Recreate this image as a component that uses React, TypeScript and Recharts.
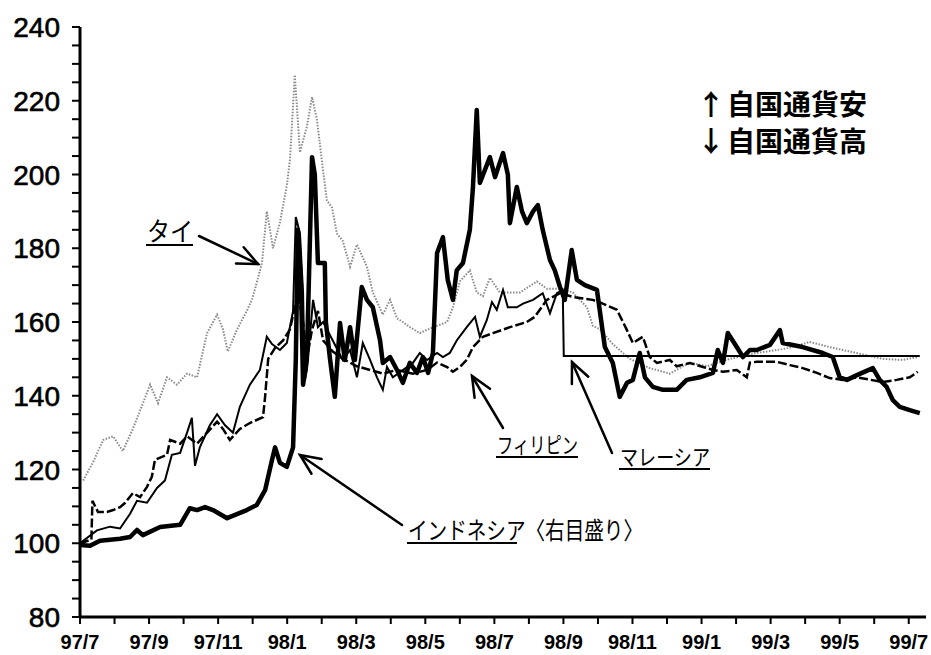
import { LineChart, Line, XAxis, YAxis } from 'recharts';

// months since 97/7 (0 = start of July 1997), index value (97/7 = 100)
const thai: [number, number][] = [
  [0.09, 117], [0.38, 122], [0.67, 128], [0.96, 129], [1.24, 125], [1.53, 131], [1.74, 136],
  [2.03, 143], [2.26, 138], [2.52, 145], [2.81, 143], [3.1, 146], [3.39, 145], [3.68, 157],
  [3.97, 162], [4.14, 158], [4.28, 152], [4.55, 158], [4.83, 163], [4.98, 166], [5.07, 169],
  [5.27, 176], [5.41, 190], [5.59, 180], [5.79, 187], [5.99, 197], [6.08, 204], [6.22, 227],
  [6.37, 206], [6.57, 213], [6.72, 221], [6.86, 215], [7.04, 201], [7.15, 193], [7.3, 191],
  [7.44, 184], [7.61, 182], [7.82, 175], [8.02, 181], [8.31, 175], [8.48, 168], [8.77, 162],
  [8.98, 166], [9.18, 161], [9.35, 160], [9.55, 158.6], [9.84, 157], [10.08, 158], [10.63, 160],
  [10.8, 164], [11.0, 171], [11.29, 174], [11.49, 168], [11.67, 167], [11.87, 172], [12.16, 168],
  [12.74, 168], [13.23, 171], [13.52, 169], [13.9, 169], [14.27, 168], [14.68, 164], [14.85, 159],
  [15.06, 158], [15.43, 154], [15.92, 150], [16.5, 147.5], [17.08, 146], [17.66, 149], [18.15, 148],
  [18.82, 150], [19.6, 151.6], [20.18, 152.4], [20.56, 153], [21.13, 154.6], [21.71, 153.2],
  [22.29, 152], [23.25, 150], [23.83, 149.7], [24.26, 150.5],
];

const malaysia: [number, number][] = [
  [0, 100], [0.49, 103.5], [0.87, 104.5], [1.16, 104], [1.45, 108], [1.65, 111.5], [1.94, 111],
  [2.23, 115], [2.46, 117], [2.66, 124], [2.9, 124.5], [3.1, 130], [3.24, 134], [3.33, 121],
  [3.47, 126], [3.76, 132], [3.97, 135], [4.2, 132], [4.43, 130], [4.63, 137], [4.92, 143],
  [5.21, 147], [5.41, 156], [5.56, 154], [5.79, 152.4], [5.99, 154.3], [6.17, 163], [6.25, 188.5],
  [6.37, 184], [6.46, 168], [6.51, 144], [6.57, 147], [6.75, 166], [6.89, 158.6], [7.04, 160],
  [7.32, 155], [7.61, 149.7], [7.82, 152.4], [8.02, 145], [8.19, 154.3], [8.4, 149.7], [8.6, 145],
  [8.77, 141.6], [8.89, 147.8], [9.06, 145], [9.35, 147], [9.64, 148.9], [9.84, 151.6],
  [10.05, 149.7], [10.34, 151.6], [10.51, 150.5], [10.71, 151.6], [10.91, 155], [11.2, 158.6],
  [11.44, 161.4], [11.58, 156], [11.78, 160.5], [11.93, 165.4], [12.07, 163.3], [12.25, 168.7],
  [12.39, 164], [12.65, 164], [12.83, 165], [13.12, 166], [13.4, 167.8], [13.61, 162.4],
  [13.81, 167.8], [13.98, 168.7], [14.01, 150.8], [24.32, 150.8],
];

const philippines: [number, number][] = [
  [0, 100], [0.33, 101], [0.36, 111.5], [0.52, 108.5], [0.78, 108.5], [0.96, 109], [1.16, 109.8],
  [1.3, 110.9], [1.53, 113.6], [1.74, 112.5], [1.94, 115.3], [2.08, 118], [2.17, 122.6], [2.52, 124],
  [2.61, 128], [2.9, 127], [3.1, 129], [3.39, 127], [3.68, 130], [3.97, 133], [4.14, 131],
  [4.34, 128], [4.63, 131], [4.92, 132.6], [5.3, 134.2], [5.36, 139.7], [5.45, 150], [5.65, 153],
  [5.88, 155], [6.08, 158], [6.31, 168], [6.46, 160], [6.57, 150], [6.72, 158], [6.89, 163],
  [7.04, 155], [7.32, 152], [7.61, 150], [8.02, 148], [8.4, 147], [8.77, 146], [9.18, 147],
  [9.64, 146], [10.05, 147], [10.34, 149], [10.63, 147.8], [10.8, 146.5], [11.0, 147.8],
  [11.2, 149.7], [11.38, 153.2], [11.67, 156], [11.96, 157], [12.45, 158.6], [12.94, 160],
  [13.17, 161.4], [13.52, 166], [13.9, 167.8], [14.27, 166.8], [14.85, 166], [15.14, 165],
  [15.55, 163.3], [15.84, 157.8], [16.01, 154.3], [16.3, 156], [16.5, 150.5], [16.71, 148.9],
  [17.08, 149.7], [17.28, 148], [17.66, 148.9], [18.04, 147.8], [18.33, 147], [18.62, 146.5],
  [19.02, 147], [19.31, 145], [19.4, 149], [19.6, 149.2], [20.18, 149.2], [20.56, 148.3],
  [20.93, 147.5], [21.34, 146.2], [21.71, 144.8], [22.09, 144.3], [22.5, 145], [23.25, 143.7],
  [23.65, 144.3], [24.03, 145], [24.26, 146.5],
];

const indonesia: [number, number][] = [
  [0, 99.5], [0.29, 99.3], [0.58, 100.7], [1.16, 101.2], [1.45, 101.7], [1.65, 103.6], [1.82, 102.2],
  [2.32, 104.4], [2.9, 105], [3.18, 109.5], [3.39, 109], [3.62, 109.8], [3.85, 109], [4.26, 106.8],
  [4.83, 109], [5.12, 110.4], [5.36, 114.4], [5.56, 122.6], [5.65, 126], [5.79, 121.8],
  [5.99, 120.7], [6.17, 126], [6.25, 150], [6.31, 185], [6.4, 170], [6.46, 143], [6.57, 150],
  [6.72, 204.7], [6.8, 200], [6.89, 176], [7.09, 176], [7.12, 160], [7.24, 150], [7.38, 139.7],
  [7.53, 159.7], [7.67, 149.7], [7.82, 158.6], [7.96, 149.7], [8.16, 169.5], [8.31, 166],
  [8.48, 164], [8.69, 155], [8.77, 148.9], [8.98, 150.5], [9.18, 147], [9.35, 143.5], [9.55, 148.9],
  [9.76, 146.2], [9.93, 150.5], [10.08, 146.2], [10.22, 151.6], [10.34, 178.7], [10.51, 183],
  [10.65, 171.4], [10.8, 166], [10.91, 174], [11.09, 176], [11.29, 185], [11.38, 196.6],
  [11.49, 217.5], [11.58, 197.7], [11.87, 204.7], [12.02, 199.3], [12.25, 205.8], [12.39, 200],
  [12.45, 186.8], [12.65, 196.6], [12.8, 190], [12.94, 186.8], [13.12, 190], [13.26, 191.7],
  [13.4, 185], [13.61, 176.8], [13.75, 174], [13.9, 169.5], [14.04, 166], [14.24, 179.5],
  [14.39, 171.4], [14.62, 170], [14.97, 168.7], [15.2, 153.2], [15.43, 148.9], [15.63, 139.7],
  [15.84, 143.5], [16.01, 144.3], [16.21, 151.6], [16.36, 145], [16.59, 142.4], [16.88, 141.6],
  [17.28, 141.6], [17.57, 144.3], [17.95, 145], [18.33, 146.2], [18.47, 152.4], [18.62, 148.9],
  [18.76, 157], [19.02, 153.2], [19.2, 150.5], [19.4, 152.4], [19.6, 152.4], [19.98, 153.8],
  [20.27, 157.8], [20.35, 154.3], [20.93, 153.2], [21.51, 151.6], [21.8, 150.5], [22.0, 145],
  [22.21, 144.3], [22.5, 145.6], [22.96, 147.5], [23.16, 144.3], [23.36, 142.4], [23.54, 138.8],
  [23.74, 137], [24.03, 136.1], [24.32, 135.3],
];

const monthTicks = Array.from({ length: 25 }, (_, i) => i);
const monthLabels = ['97/7', '97/9', '97/11', '98/1', '98/3', '98/5', '98/7', '98/9', '98/11', '99/1', '99/3', '99/5', '99/7'];
const valueTicks = Array.from({ length: 33 }, (_, i) => 80 + i * 5);

const toRows = (pts: [number, number][]) => pts.map(([t, v]) => ({ t, v }));

const numFont = '"Liberation Sans", Arial, sans-serif';
const jpFont = '"Noto Sans CJK JP", sans-serif';

function YTick({ x, y, payload }: any) {
  if (payload.value % 20 !== 0) return <g />;
  return (
    <text x={x} y={y} dy={10} textAnchor="end" fontSize={28} fontFamily={numFont} fill="#000" stroke="#000" strokeWidth={0.6}>
      {payload.value}
    </text>
  );
}

function XTick({ x, y, payload }: any) {
  if (payload.value % 2 !== 0) return <g />;
  return (
    <text x={x} y={y} dy={17} textAnchor="middle" fontSize={20} fontWeight="bold" fontFamily={numFont} fill="#000">
      {monthLabels[payload.value / 2]}
    </text>
  );
}

function Arrow({ x1, y1, x2, y2 }: { x1: number; y1: number; x2: number; y2: number }) {
  const a = Math.atan2(y2 - y1, x2 - x1);
  const len = 22;
  const spread = 0.42;
  const h1 = [x2 - len * Math.cos(a - spread), y2 - len * Math.sin(a - spread)];
  const h2 = [x2 - len * Math.cos(a + spread), y2 - len * Math.sin(a + spread)];
  return (
    <g stroke="#000" strokeWidth={2.5} fill="none" strokeLinecap="round">
      <line x1={x1} y1={y1} x2={x2} y2={y2} />
      <polyline points={`${h1[0]},${h1[1]} ${x2},${y2} ${h2[0]},${h2[1]}`} />
    </g>
  );
}

function Label({ x, y, w, text, size, under }: { x: number; y: number; w: number; text: string; size: number; under?: number }) {
  return (
    <g>
      <text x={x} y={y} fontSize={size} fontFamily={jpFont} fill="#000" textLength={w} lengthAdjust="spacingAndGlyphs">
        {text}
      </text>
      <line x1={x - 1} y1={y + 4} x2={x + (under ?? w)} y2={y + 4} stroke="#000" strokeWidth={2} />
    </g>
  );
}

export default function App() {
  return (
    <div style={{ position: 'relative', width: 931, height: 655, background: '#fff', overflow: 'hidden' }}>
      <style>{'body{margin:0}'}</style>
      <div style={{ position: 'absolute', left: 8, top: 8 }}>
        <LineChart width={923} height={645} margin={{ top: 19, right: 5, left: 12, bottom: 6 }}>
          <XAxis
            dataKey="t"
            type="number"
            domain={[0, 24.5]}
            ticks={monthTicks}
            interval={0}
            allowDataOverflow
            height={30}
            tickSize={7}
            tickMargin={8}
            tick={<XTick />}
            axisLine={{ stroke: '#000', strokeWidth: 3 }}
            tickLine={{ stroke: '#000', strokeWidth: 2 }}
          />
          <YAxis
            type="number"
            domain={[80, 240]}
            ticks={valueTicks}
            interval={0}
            width={60}
            tickSize={8}
            tickMargin={12}
            tick={<YTick />}
            axisLine={{ stroke: '#000', strokeWidth: 3 }}
            tickLine={{ stroke: '#000', strokeWidth: 2 }}
          />
          <Line data={toRows(thai)} dataKey="v" type="linear" stroke="#8a8a8a" strokeWidth={2} strokeDasharray="1.5 1.5" dot={false} isAnimationActive={false} />
          <Line data={toRows(philippines)} dataKey="v" type="linear" stroke="#000" strokeWidth={2.5} strokeDasharray="9 3" dot={false} isAnimationActive={false} />
          <Line data={toRows(malaysia)} dataKey="v" type="linear" stroke="#000" strokeWidth={2} dot={false} isAnimationActive={false} />
          <Line data={toRows(indonesia)} dataKey="v" type="linear" stroke="#000" strokeWidth={4.5} strokeLinejoin="round" dot={false} isAnimationActive={false} />
        </LineChart>
      </div>
      <svg width={931} height={655} style={{ position: 'absolute', left: 0, top: 0, pointerEvents: 'none' }}>
        <Label x={147} y={241} w={46} text="タイ" size={26} />
        <Arrow x1={199} y1={236} x2={258} y2={264} />
        <Label x={497} y={453} w={81} text="フィリピン" size={22} />
        <Arrow x1={503} y1={428} x2={472} y2={376} />
        <Label x={620} y={465} w={90} text="マレーシア" size={22} />
        <Arrow x1={612} y1={453} x2={572} y2={362} />
        <Label x={408} y={539} w={235} text="インドネシア〈右目盛り〉" size={24} under={109} />
        <Arrow x1={402} y1={525} x2={300} y2={455} />
        <text x={697} y={115} fontSize={28} fontWeight="bold" fontFamily={jpFont} fill="#000">↑</text>
        <text x={727} y={115} fontSize={28} fontWeight="bold" fontFamily={jpFont} fill="#000" textLength={140} lengthAdjust="spacingAndGlyphs">自国通貨安</text>
        <text x={697} y={152} fontSize={28} fontWeight="bold" fontFamily={jpFont} fill="#000">↓</text>
        <text x={727} y={152} fontSize={28} fontWeight="bold" fontFamily={jpFont} fill="#000" textLength={140} lengthAdjust="spacingAndGlyphs">自国通貨高</text>
      </svg>
    </div>
  );
}
